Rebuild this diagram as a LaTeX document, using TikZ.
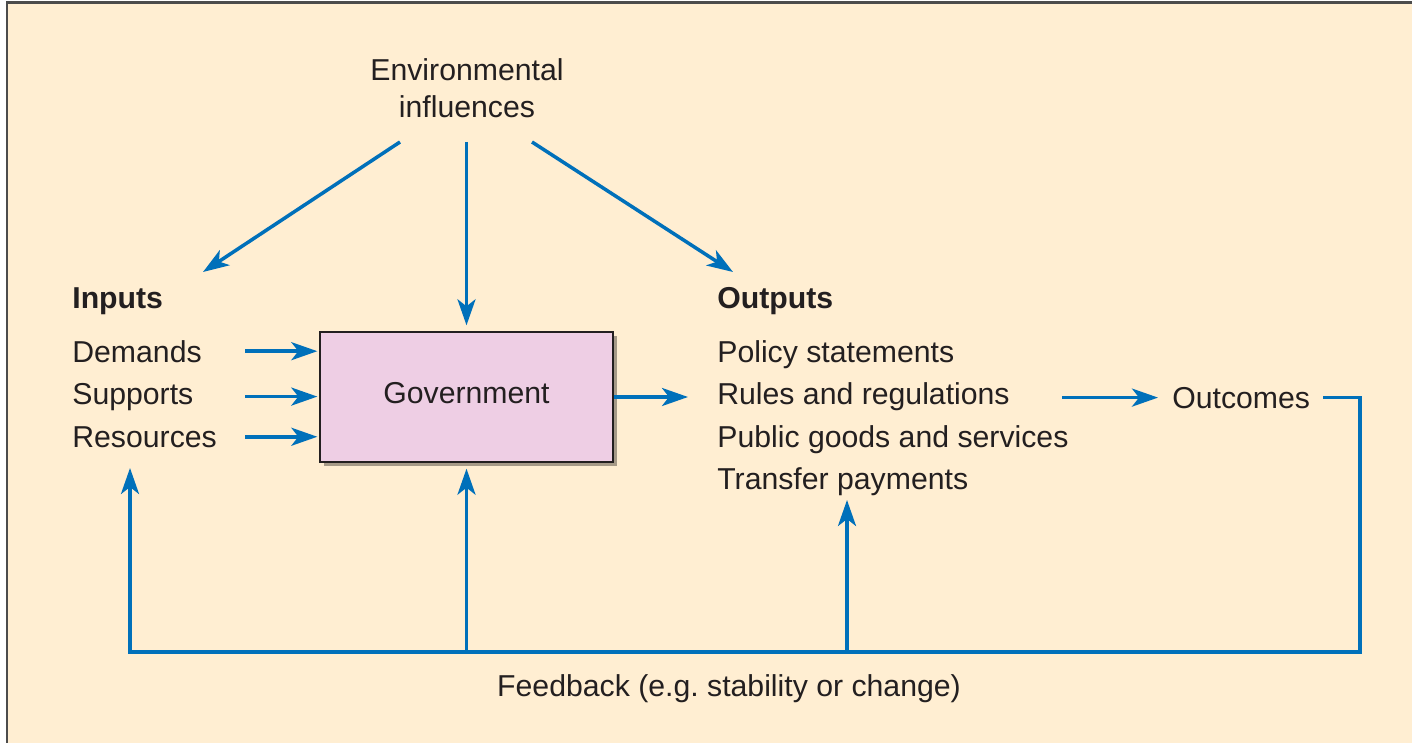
\documentclass[tikz,border=0pt]{standalone}
\usepackage{fontspec}
\setmainfont{Liberation Sans}
\usetikzlibrary{arrows.meta,positioning,calc,shadows}

\definecolor{cream}{RGB}{255,238,210}
\definecolor{govpink}{RGB}{238,206,228}
\definecolor{flowblue}{RGB}{0,112,186}
\definecolor{inkgray}{RGB}{35,31,32}

\begin{document}
\begin{tikzpicture}[x=0.02cm,y=-0.02cm,
        txt/.style={font=\fontsize{17.2}{21}\selectfont,text=inkgray,inner sep=0pt},
        head/.style={txt,font=\fontsize{17.2}{21}\selectfont\bfseries},
        flow/.style={draw=flowblue,line width=2pt,-{Stealth[length=0.52cm,width=0.36cm,inset=0.14cm]}}]

        % Panel background
        \useasboundingbox (0,0) rectangle (1412,743);
        \fill[cream] (7,3) rectangle (1412,743);
        \draw[black!70,line width=0.06cm] (7,743) -- (7,3) -- (1412,3);

        % Top label
        \node[txt,align=center] (env) at (467,88) {Environmental\\influences};

        % Left side labels
        \node[head,anchor=base west] (inputs) at (72,308) {Inputs};
        \node[txt,anchor=base west] (dem) at (72,362) {Demands};
        \node[txt,anchor=base west] (sup) at (72,404) {Supports};
        \node[txt,anchor=base west] (res) at (72,447) {Resources};

        % Middle box
        \node[draw=inkgray,line width=0.8pt,fill=govpink,minimum width=5.86cm,minimum height=2.6cm,
              drop shadow={shadow xshift=0.08cm,shadow yshift=-0.08cm,fill=black,opacity=0.35},
              txt,text depth=0.16cm] (gov) at (466.5,397) {Government};

        % Right side labels
        \node[head,anchor=base west] (outputs) at (717,308) {Outputs};
        \node[txt,anchor=base west] (pol) at (717,362) {Policy statements};
        \node[txt,anchor=base west] (rul) at (717,404) {Rules and regulations};
        \node[txt,anchor=base west] (pub) at (717,447) {Public goods and services};
        \node[txt,anchor=base west] (tra) at (717,489) {Transfer payments};
        \node[txt,anchor=base west] (outc) at (1172,408) {Outcomes};

        % Bottom label
        \node[txt,anchor=base] (fbtxt) at (729,696) {Feedback (e.g.\ stability or change)};

        % Free ends of connectors
        \coordinate (envL) at (400,142);
        \coordinate (envM) at (466.5,142);
        \coordinate (envR) at (532,142);
        \coordinate (inTop) at (203,272);
        \coordinate (outTop) at (733,272);
        \coordinate (inArr) at (245,0);
        \coordinate (fbR) at (1360,652);
        \coordinate (fbL) at (130,652);
        \coordinate (inTip) at (130,468);
        \coordinate (traTip) at (847,500);

        % Environmental arrows
        \draw[flow] (envL) -- (inTop);
        \draw[flow,shorten >=0.12cm] (envM) -- (envM |- gov.north);
        \draw[flow] (envR) -- (outTop);

        % Inputs into the box
        \draw[flow,shorten >=0.04cm] (dem -| inArr) -- (dem -| gov.west);
        \draw[flow,shorten >=0.04cm] (sup -| inArr) -- (sup -| gov.west);
        \draw[flow,shorten >=0.04cm] (res -| inArr) -- (res -| gov.west);

        % Box to outputs to outcomes
        \draw[flow,shorten >=0.58cm] (gov.east) -- (gov.east -| rul.west);
        \draw[flow,shorten <=1.04cm,shorten >=0.28cm] (rul.east |- outc.west) -- (outc.west);

        % Feedback loop
        \draw[flow] ([xshift=0.26cm]outc.east) -| (fbR) -- (fbL) -- (inTip);
        \draw[flow,shorten >=0.12cm] (gov.south |- fbL) -- (gov.south);
        \draw[flow] (traTip |- fbL) -- (traTip);

    \end{tikzpicture}
\end{document}
